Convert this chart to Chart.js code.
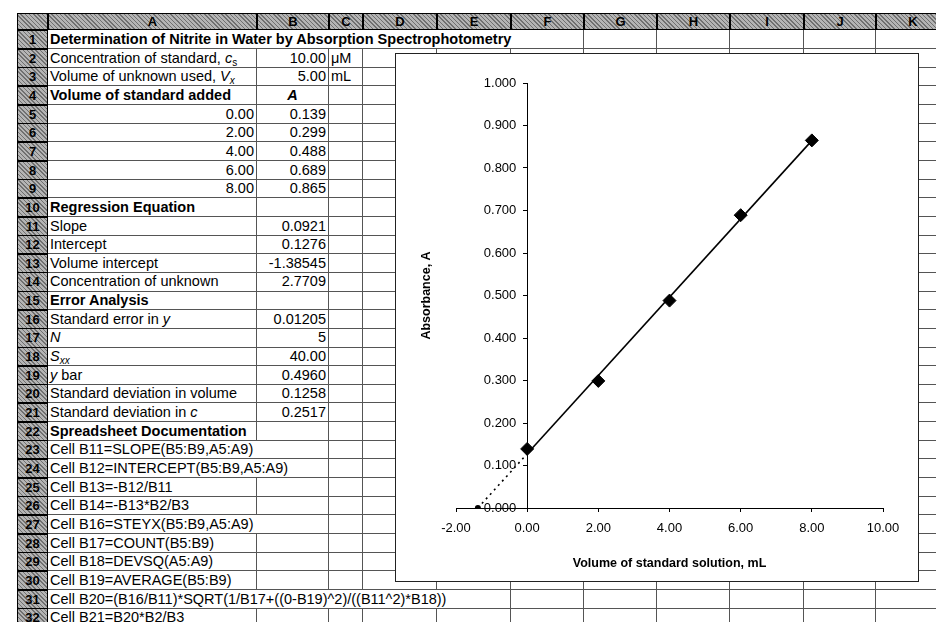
<!DOCTYPE html>
<html>
<head>
<meta charset="utf-8">
<script src="https://cdn.jsdelivr.net/npm/chart.js@4/dist/chart.umd.min.js"></script>
<style>
body { margin: 0; background: #fff; }
#sheet { position: relative; width: 936px; height: 622px; overflow: hidden; background: #fff;
  font-family: 'Liberation Sans', Arial, sans-serif; font-size: 14.5px; color: #000; }
.cell { position: absolute; box-sizing: border-box; border-right: 1px solid #555; border-bottom: 1px solid #555;
  white-space: nowrap; line-height: 18px; padding: 0 2px; overflow: visible; }
.hdr { position: absolute; box-sizing: border-box; border: 1px solid #000; font-weight: bold; font-size: 13px;
  text-align: center; background: repeating-linear-gradient(45deg, #707070 0 1px, #b4b4b4 1px 3px); }
sub { font-size: 10px; vertical-align: -3px; line-height: 0; }
#chartBox { position: absolute; left: 395px; top: 53px; width: 524px; height: 529px; box-sizing: border-box;
  border: 1px solid #222; background: #fff; }
#chartBox canvas { position: absolute; left: 0; top: 0; }
</style>
</head>
<body>
<div id="sheet">
  <div id="chartBox"><canvas id="chart" width="522" height="527"></canvas></div>
</div>
<script>
// chart data
const volumes = [0, 2, 4, 6, 8];
const absorbances = [0.139, 0.299, 0.488, 0.689, 0.865];
const fitX = [0, 8];
const fitY = [0.1276, 0.8644];
const extrapX = [-1.385, 0];
const extrapY = [0, 0.1276];
const xTickLabels = ['-2.00', '0.00', '2.00', '4.00', '6.00', '8.00', '10.00'];
const yTickLabels = ['0.000', '0.100', '0.200', '0.300', '0.400', '0.500', '0.600', '0.700', '0.800', '0.900', '1.000'];

// spreadsheet layout
const colEdges = [48, 257, 329, 363, 437, 511, 584, 657, 730, 804, 876, 950];
const colNames = ['A', 'B', 'C', 'D', 'E', 'F', 'G', 'H', 'I', 'J', 'K'];
const rowTop0 = 30, rowH = 18.65;

// [col, span, html, align, bold]
const sheetRows = [
  [[0, 6, 'Determination of Nitrite in Water by Absorption Spectrophotometry', 'l', 1]],
  [[0, 1, 'Concentration of standard, <i>c</i><sub>s</sub>', 'l'], [1, 1, '10.00', 'r'], [2, 1, 'μM', 'l']],
  [[0, 1, 'Volume of unknown used, <i>V</i><sub><i>x</i></sub>', 'l'], [1, 1, '5.00', 'r'], [2, 1, 'mL', 'l']],
  [[0, 1, 'Volume of standard added', 'l', 1], [1, 1, '<i>A</i>', 'c', 1]],
];
volumes.forEach((v, i) => {
  sheetRows.push([[0, 1, v.toFixed(2), 'r'], [1, 1, absorbances[i].toFixed(3), 'r']]);
});
sheetRows.push(
  [[0, 1, 'Regression Equation', 'l', 1]],
  [[0, 1, 'Slope', 'l'], [1, 1, '0.0921', 'r']],
  [[0, 1, 'Intercept', 'l'], [1, 1, '0.1276', 'r']],
  [[0, 1, 'Volume intercept', 'l'], [1, 1, '-1.38545', 'r']],
  [[0, 1, 'Concentration of unknown', 'l'], [1, 1, '2.7709', 'r']],
  [[0, 1, 'Error Analysis', 'l', 1]],
  [[0, 1, 'Standard error in <i>y</i>', 'l'], [1, 1, '0.01205', 'r']],
  [[0, 1, '<i>N</i>', 'l'], [1, 1, '5', 'r']],
  [[0, 1, '<i>S</i><sub><i>xx</i></sub>', 'l'], [1, 1, '40.00', 'r']],
  [[0, 1, '<i>y</i> bar', 'l'], [1, 1, '0.4960', 'r']],
  [[0, 1, 'Standard deviation in volume', 'l'], [1, 1, '0.1258', 'r']],
  [[0, 1, 'Standard deviation in <i>c</i>', 'l'], [1, 1, '0.2517', 'r']],
  [[0, 1, 'Spreadsheet Documentation', 'l', 1]],
  [[0, 2, 'Cell B11=SLOPE(B5:B9,A5:A9)', 'l']],
  [[0, 2, 'Cell B12=INTERCEPT(B5:B9,A5:A9)', 'l']],
  [[0, 1, 'Cell B13=-B12/B11', 'l']],
  [[0, 1, 'Cell B14=-B13*B2/B3', 'l']],
  [[0, 2, 'Cell B16=STEYX(B5:B9,A5:A9)', 'l']],
  [[0, 1, 'Cell B17=COUNT(B5:B9)', 'l']],
  [[0, 1, 'Cell B18=DEVSQ(A5:A9)', 'l']],
  [[0, 1, 'Cell B19=AVERAGE(B5:B9)', 'l']],
  [[0, 5, 'Cell B20=(B16/B11)*SQRT(1/B17+((0-B19)^2)/((B11^2)*B18))', 'l']],
  [[0, 1, 'Cell B21=B20*B2/B3', 'l']]
);

const sheet = document.getElementById('sheet');
const chartBox = document.getElementById('chartBox');
function addDiv(cls, x, y, w, h, html, style) {
  const d = document.createElement('div');
  d.className = cls;
  d.style.left = x + 'px';
  d.style.top = y + 'px';
  d.style.width = w + 'px';
  d.style.height = h + 'px';
  if (style) Object.assign(d.style, style);
  d.innerHTML = html || '';
  sheet.insertBefore(d, chartBox);
}

// column headers
addDiv('hdr', 17, 13, 31, 17, '');
colNames.forEach((n, c) => {
  addDiv('hdr', colEdges[c], 13, colEdges[c + 1] - colEdges[c], 17, n, { lineHeight: '15px' });
});

sheetRows.forEach((cells, r) => {
  const top = rowTop0 + r * rowH;
  const h = rowH + 0.5;
  addDiv('hdr', 17, top, 31, h, String(r + 1), { lineHeight: '17px' });
  let c = 0;
  while (c < colNames.length) {
    const spec = cells.find(s => s[0] === c);
    const span = spec ? spec[1] : 1;
    const x = colEdges[c], w = colEdges[c + span] - x;
    const style = {};
    if (spec) {
      style.textAlign = spec[3] === 'r' ? 'right' : spec[3] === 'c' ? 'center' : 'left';
      if (spec[4]) style.fontWeight = 'bold';
    }
    addDiv('cell', x, top, w, h, spec ? spec[2] : '', style);
    c += span;
  }
});

// chart
const toPts = (xs, ys) => xs.map((x, i) => ({ x: x, y: ys[i] }));
const tickFont = { family: "'Liberation Sans', Arial, sans-serif", size: 13 };

// y title sits well left of the tick labels, inside the chart box
const yTitle = {
  id: 'yTitle',
  afterDraw(chart) {
    const { ctx, chartArea, scales } = chart;
    ctx.save();
    ctx.translate(chartArea.left - 29, (scales.y.top + scales.y.bottom) / 2);
    ctx.rotate(-Math.PI / 2);
    ctx.font = "bold 12.5px 'Liberation Sans', Arial, sans-serif";
    ctx.textAlign = 'center';
    ctx.textBaseline = 'middle';
    ctx.fillStyle = '#000';
    ctx.fillText('Absorbance, A', 0, 0);
    ctx.restore();
  }
};

new Chart(document.getElementById('chart').getContext('2d'), {
  type: 'scatter',
  data: {
    datasets: [
      { data: toPts(fitX, fitY), showLine: true, borderColor: '#000', borderWidth: 1.6, pointRadius: 0 },
      { data: toPts(extrapX, extrapY), showLine: true, borderColor: '#000', borderWidth: 1.6, borderDash: [2, 4],
        pointRadius: [3, 0], pointBackgroundColor: '#000', pointBorderWidth: 0 },
      { data: toPts(volumes, absorbances), pointStyle: 'rectRot', pointRadius: 6.5,
        pointBackgroundColor: '#000', pointBorderColor: '#000' }
    ]
  },
  options: {
    responsive: false,
    animation: false,
    layout: { padding: { left: 60, right: 35, top: 29, bottom: 0 } },
    plugins: { legend: { display: false }, tooltip: { enabled: false } },
    scales: {
      x: {
        type: 'linear', min: -2, max: 10,
        ticks: { stepSize: 2, padding: 9, color: '#000', font: tickFont, callback: (v, i) => xTickLabels[i] },
        grid: { drawOnChartArea: false, tickLength: 4, color: '#000' },
        border: { color: '#000' },
        title: { display: true, text: 'Volume of standard solution, mL', color: '#000',
          font: { family: "'Liberation Sans', Arial, sans-serif", size: 12.5, weight: 'bold' }, padding: { top: 4, bottom: 10 } },
        afterFit(s) { s.height = 73; }
      },
      y: {
        type: 'linear', position: { x: 0 }, min: 0, max: 1,
        // axis placed at x = 0 draws labels flush to the line, so pad them with spaces
        ticks: { stepSize: 0.1, color: '#000', font: tickFont, callback: (v, i) => yTickLabels[i] + '   ' },
        grid: { drawOnChartArea: false, tickLength: 4, color: '#000' },
        border: { color: '#000' }
      }
    }
  },
  plugins: [yTitle]
});
</script>
</body>
</html>
